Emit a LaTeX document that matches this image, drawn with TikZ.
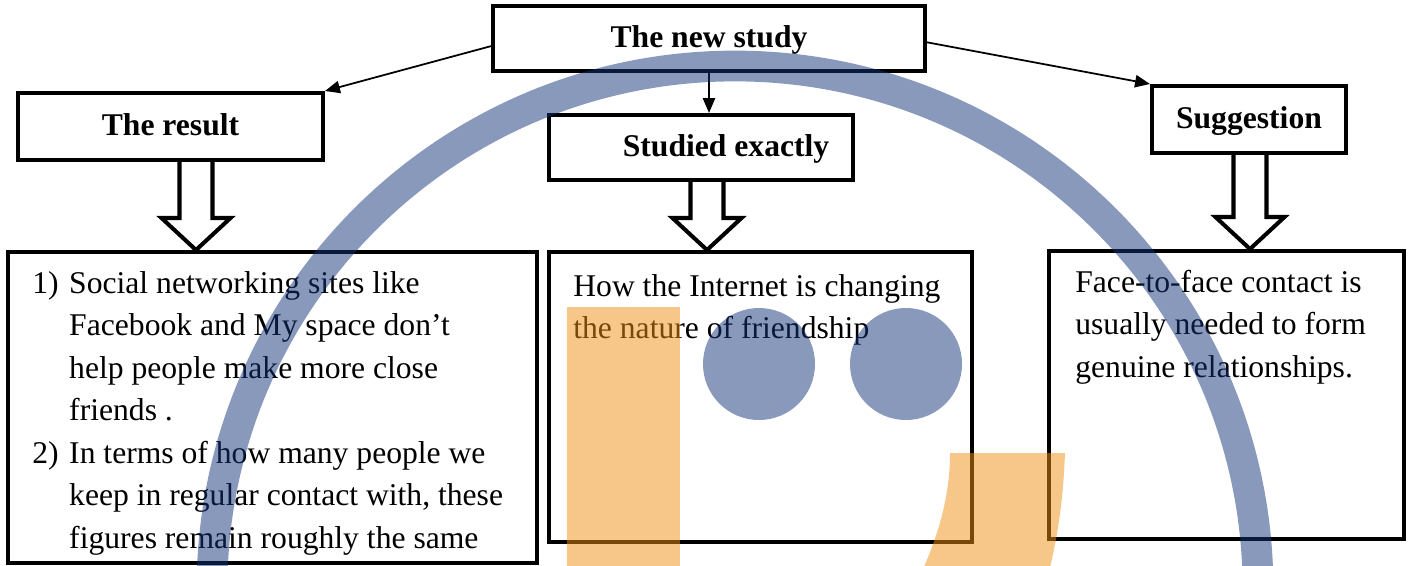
\documentclass[tikz,border=0pt]{standalone}
\usepackage{fontspec}
\setmainfont{Liberation Serif}
\usepackage{tikz}
\usetikzlibrary{arrows.meta,calc}

\definecolor{wmblue}{RGB}{17,51,121}
\definecolor{wmorange}{RGB}{240,144,20}

\newcommand{\fatarrow}[3]{%
  \coordinate (fa) at (#3,0);
  \draw[fat] ($(fa |- #1.south)+(-16.5,0)$) -- ($(fa |- #2.north)+(-16.5,-32)$) -- ++(-18,0)
    -- (fa |- #2.north) -- ++(34.5,-32) -- ++(-18,0) -- ($(fa |- #1.south)+(16.5,0)$);}

\begin{document}
\begin{tikzpicture}[x=0.02cm, y=-0.02cm,
    headbox/.style={draw, line width=2.3pt, inner sep=0pt, font=\fontsize{18}{24}\selectfont\bfseries, text height=13pt, text depth=2.2pt},
    bodybox/.style={draw, line width=2.3pt, inner sep=0pt},
    bodytext/.style={anchor=base west, inner sep=0pt, font=\fontsize{18}{24.2}\selectfont},
    link/.style={line width=1pt, -{Triangle[length=8.5pt,width=7pt]}},
    fat/.style={line width=2.3pt, fill=white, line join=miter}]
  \useasboundingbox (0,0) rectangle (1410,565);

  \node[headbox, minimum width=8.64cm, minimum height=1.30cm] (study) at (709,38.5) {The new study};
  \node[headbox, minimum width=6.10cm, minimum height=1.34cm] (result) at (170.5,126.5) {The result};
  \node[headbox, minimum width=6.08cm, minimum height=1.30cm] (studied) at (701,147.5) {\hspace*{28.5pt}Studied exactly};
  \node[headbox, minimum width=3.88cm, minimum height=1.34cm] (suggest) at (1249,119.5) {Suggestion};

  \node[bodybox, minimum width=10.58cm, minimum height=6.22cm] (resultbody) at (272.5,407.5) {};
  \node[bodybox, minimum width=8.46cm, minimum height=5.80cm] (studiedbody) at (760.5,397) {};
  \node[bodybox, minimum width=7.10cm, minimum height=5.76cm] (suggestbody) at (1226.5,395) {};

  \node[bodytext] (resulttext) at (32,293) {\begin{tabular}[t]{@{}p{21pt}@{}l@{}}
    1) & Social networking sites like\\
       & Facebook and My space don’t\\
       & help people make more close\\
       & friends .\\
    2) & In terms of how many people we\\
       & keep in regular contact with, these\\
       & figures remain roughly the same
  \end{tabular}};
  \node[bodytext] (studiedtext) at (573,296) {\begin{tabular}[t]{@{}l@{}}
    How the Internet is changing\\
    the nature of friendship
  \end{tabular}};
  \node[bodytext] (suggesttext) at (1075,292) {\begin{tabular}[t]{@{}l@{}}
    Face-to-face contact is\\
    usually needed to form\\
    genuine relationships.
  \end{tabular}};

  \draw[link] (study.182) -- (result.north east);
  \draw[link] (study.-1) -- (suggest.north west);
  \draw[link] (study.south) -- (study.south |- studied.north);

  \fatarrow{result}{resultbody}{196}
  \fatarrow{studied}{studiedbody}{707}
  \fatarrow{suggest}{suggestbody}{1250}

  \begin{scope}[opacity=0.5]
    \draw[wmblue, line width=17.5pt] (735,589) circle[radius=523];
    \fill[wmblue] (759,364) circle[radius=56];
    \fill[wmblue] (906,364) circle[radius=56];
    \fill[wmorange] (567,307) rectangle (680,580);
    \fill[wmorange] (950,453) -- (1065,453) .. controls (1063,505) and (1057,540) .. (1047,580)
      -- (918,580) .. controls (936,542) and (950,500) .. (950,453) -- cycle;
  \end{scope}
\end{tikzpicture}
\end{document}
